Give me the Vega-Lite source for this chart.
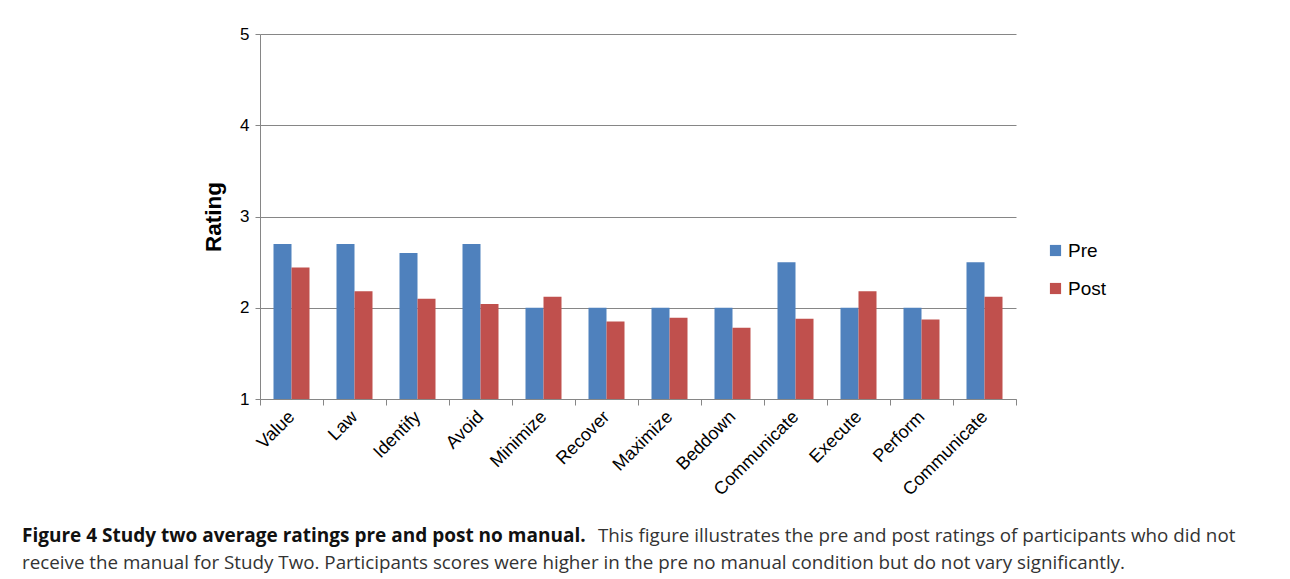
{
  "$schema": "https://vega.github.io/schema/vega-lite/v6.json",
  "width": 756,
  "height": 365,
  "autosize": {"type": "none"},
  "padding": {"left": 260, "top": 34, "right": 274, "bottom": 180},
  "background": "white",
  "title": {
    "text": "Figure 4 Study two average ratings pre and post no manual.",
    "subtitle": [
      "\u200b\u2003\u2003\u2003\u2003\u2003\u2003\u2003\u2003\u2003\u2003\u2003\u2003\u2003\u2003\u2003\u2003\u2003\u2003\u2003\u2003\u2003\u2003\u2003\u2003\u2003\u2003\u2003\u2003\u2003\u2003\u2002\u2009This figure illustrates the pre and post ratings of participants who did not",
      "receive the manual for Study Two. Participants scores were higher in the pre no manual condition but do not vary significantly."
    ],
    "orient": "bottom",
    "anchor": "start",
    "frame": "group",
    "dx": -238,
    "offset": 28,
    "font": "Open Sans",
    "fontSize": 19,
    "fontWeight": "bold",
    "color": "#111111",
    "subtitleFont": "Open Sans",
    "subtitleFontSize": 18.8,
    "subtitleFontWeight": "normal",
    "subtitleColor": "#333333",
    "subtitlePadding": -19,
    "subtitleLineHeight": 27,
    "limit": 1290
  },
  "data": {
    "values": [
      {"item": "Value", "condition": "Pre", "rating": 2.70},
      {"item": "Value", "condition": "Post", "rating": 2.44},
      {"item": "Law", "condition": "Pre", "rating": 2.70},
      {"item": "Law", "condition": "Post", "rating": 2.18},
      {"item": "Identify", "condition": "Pre", "rating": 2.60},
      {"item": "Identify", "condition": "Post", "rating": 2.10},
      {"item": "Avoid", "condition": "Pre", "rating": 2.70},
      {"item": "Avoid", "condition": "Post", "rating": 2.04},
      {"item": "Minimize", "condition": "Pre", "rating": 2.00},
      {"item": "Minimize", "condition": "Post", "rating": 2.12},
      {"item": "Recover", "condition": "Pre", "rating": 2.00},
      {"item": "Recover", "condition": "Post", "rating": 1.85},
      {"item": "Maximize", "condition": "Pre", "rating": 2.00},
      {"item": "Maximize", "condition": "Post", "rating": 1.89},
      {"item": "Beddown", "condition": "Pre", "rating": 2.00},
      {"item": "Beddown", "condition": "Post", "rating": 1.78},
      {"item": "Communicate", "condition": "Pre", "rating": 2.50},
      {"item": "Communicate", "condition": "Post", "rating": 1.88},
      {"item": "Execute", "condition": "Pre", "rating": 2.00},
      {"item": "Execute", "condition": "Post", "rating": 2.18},
      {"item": "Perform", "condition": "Pre", "rating": 2.00},
      {"item": "Perform", "condition": "Post", "rating": 1.87},
      {"item": "Communicate 2", "condition": "Pre", "rating": 2.50},
      {"item": "Communicate 2", "condition": "Post", "rating": 2.12}
    ]
  },
  "mark": {"type": "bar"},
  "encoding": {
    "x": {
      "field": "item",
      "type": "nominal",
      "sort": null,
      "scale": {"paddingInner": 0, "paddingOuter": 0},
      "axis": {
        "title": null,
        "labelExpr": "datum.value == 'Communicate 2' ? 'Communicate' : datum.value",
        "labelAngle": -45,
        "labelAlign": "right",
        "labelBaseline": "middle",
        "labelPadding": 9,
        "labelFont": "Liberation Sans",
        "labelFontSize": 18,
        "labelColor": "#000000",
        "tickBand": "extent",
        "tickSize": 6,
        "tickColor": "#868686",
        "domainColor": "#868686",
        "labelLimit": 300
      }
    },
    "xOffset": {
      "field": "condition",
      "type": "nominal",
      "sort": ["Pre", "Post"],
      "scale": {"paddingInner": 0, "paddingOuter": 0.75}
    },
    "y": {
      "field": "rating",
      "type": "quantitative",
      "scale": {"domain": [1, 5], "zero": false, "nice": false},
      "axis": {
        "title": "Rating",
        "titleFont": "Liberation Sans",
        "titleFontSize": 22.5,
        "titleFontWeight": "bold",
        "titleColor": "#000000",
        "titlePadding": 14,
        "values": [1, 2, 3, 4, 5],
        "format": "d",
        "labelFont": "Liberation Sans",
        "labelFontSize": 17,
        "labelColor": "#000000",
        "labelPadding": 6,
        "tickSize": 5,
        "tickColor": "#868686",
        "domainColor": "#868686",
        "grid": true,
        "gridColor": "#868686",
        "gridOpacity": 1
      }
    },
    "y2": {"datum": 1},
    "color": {
      "field": "condition",
      "type": "nominal",
      "scale": {"domain": ["Pre", "Post"], "range": ["#4F81BD", "#C0504D"]},
      "legend": {
        "title": null,
        "orient": "none",
        "legendX": 786,
        "legendY": 207,
        "symbolType": "square",
        "symbolSize": 125,
        "symbolStrokeWidth": 0,
        "labelFont": "Liberation Sans",
        "labelFontSize": 19,
        "labelColor": "#000000",
        "labelOffset": 3,
        "rowPadding": 18
      }
    }
  },
  "config": {"view": {"stroke": null}}
}
